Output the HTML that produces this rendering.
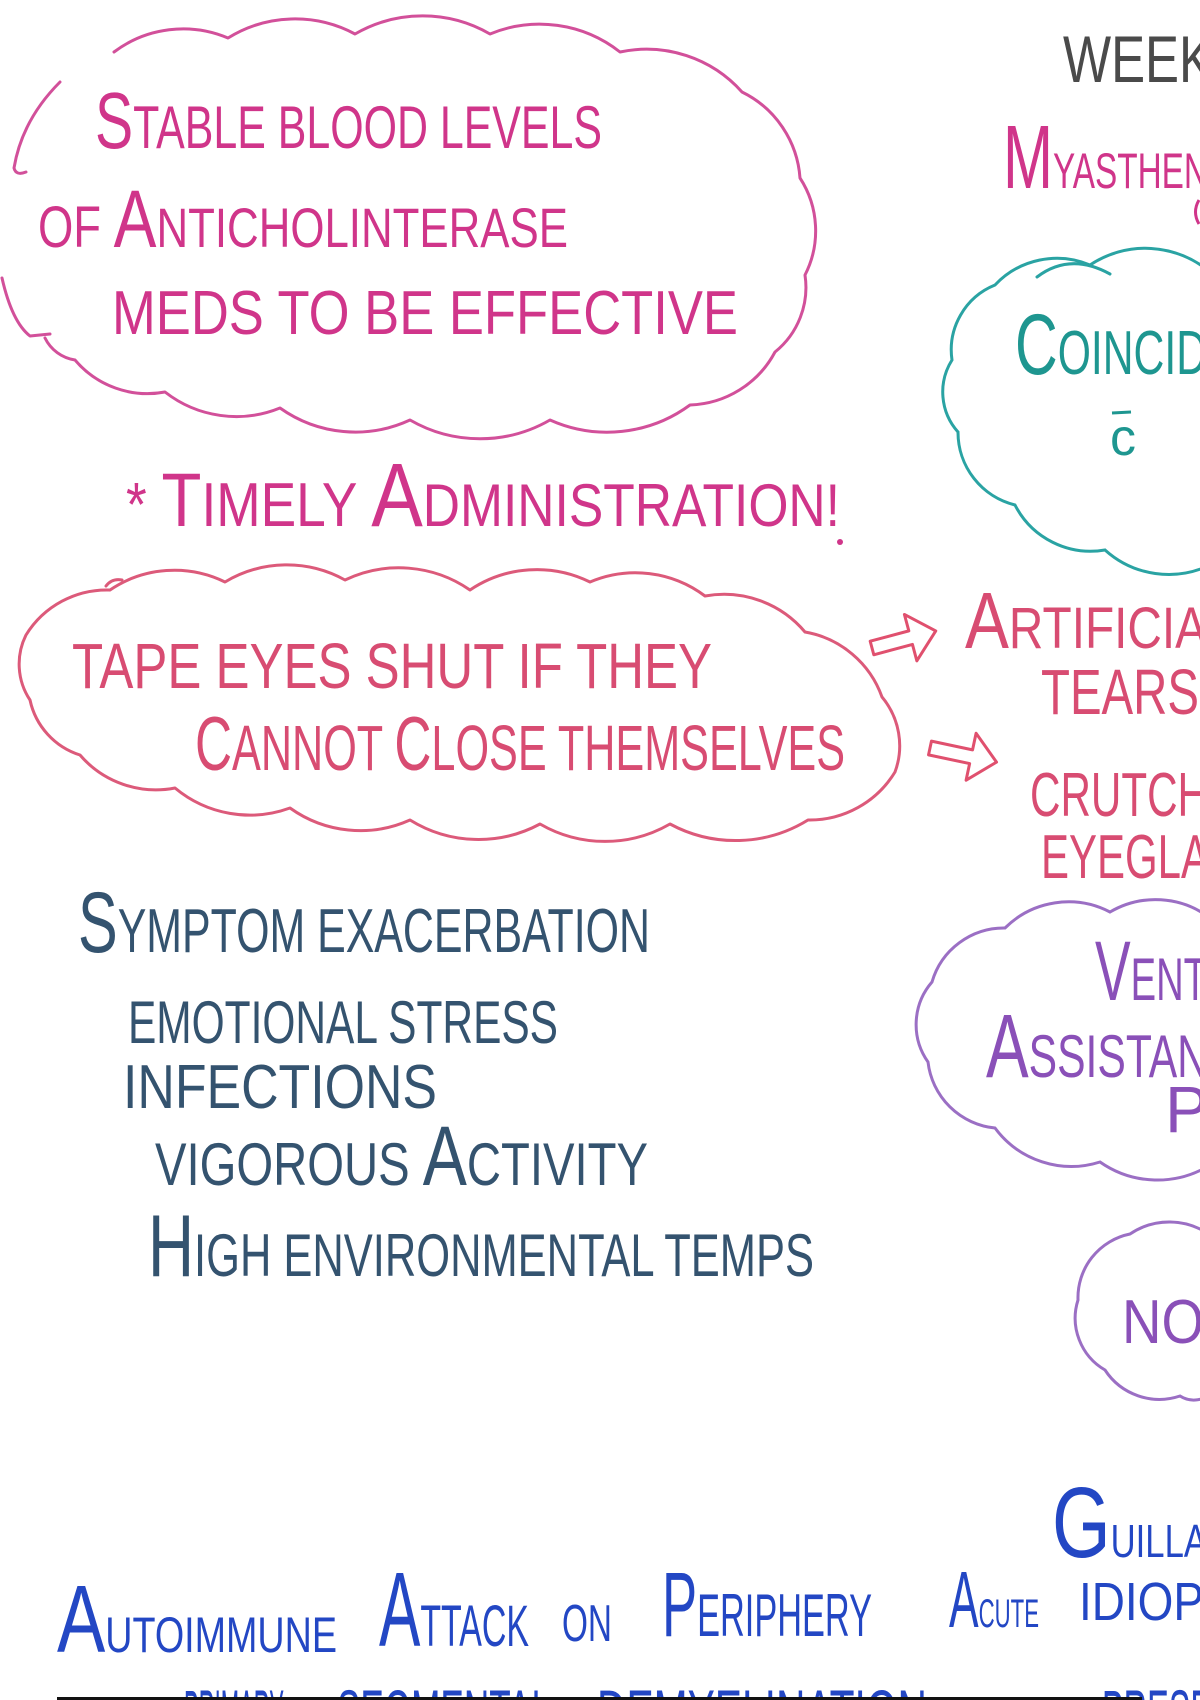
<!DOCTYPE html>
<html>
<head>
<meta charset="utf-8">
<style>
  html,body{margin:0;padding:0;background:#fff;}
  body{width:1200px;height:1700px;overflow:hidden;}
  svg{display:block;}
  text{font-family:"Liberation Sans Narrow","Liberation Sans",sans-serif;}
</style>
</head>
<body>
<svg width="1200" height="1700" viewBox="0 0 1200 1700" xmlns="http://www.w3.org/2000/svg">
  <rect x="0" y="0" width="1200" height="1700" fill="#ffffff"/>

  <!-- Cloud 1 (magenta) -->
  <g fill="none" stroke="#d2509a" stroke-width="3" stroke-linecap="round" stroke-linejoin="round">
    <path d="M114 52
      A115 115 0 0 1 228 38
      A127 127 0 0 1 355 34
      A135 135 0 0 1 490 34
      A130 130 0 0 1 620 52
      A128 128 0 0 1 742 92
      A104 104 0 0 1 800 178
      A97 97 0 0 1 805 275
      A83 83 0 0 1 775 352
      A100 100 0 0 1 690 405
      A140 140 0 0 1 550 420
      A140 140 0 0 1 410 420
      A130 130 0 0 1 280 408
      A116 116 0 0 1 165 392
      A95 95 0 0 1 75 360
      A40 40 0 0 1 45 338"/>
    <path d="M60 82 Q22 120 14 168 Q16 176 26 172"/>
    <path d="M2 278 Q12 322 30 336 L50 334"/>
  </g>

  <!-- Cloud 2 (red-pink) -->
  <g fill="none" stroke="#dc5a7a" stroke-width="3" stroke-linecap="round" stroke-linejoin="round">
    <path d="M110 590
      A115 115 0 0 1 225 582
      A120 120 0 0 1 345 580
      A125 125 0 0 1 470 590
      A120 120 0 0 1 590 582
      A116 116 0 0 1 705 596
      A106 106 0 0 1 805 632
      A100 100 0 0 1 882 697
      A76 76 0 0 1 895 772
      A100 100 0 0 1 808 820
      A138 138 0 0 1 670 824
      A130 130 0 0 1 540 824
      A130 130 0 0 1 410 820
      A121 121 0 0 1 290 808
      A117 117 0 0 1 175 788
      A100 100 0 0 1 80 755
      A74 74 0 0 1 30 700
      A65 65 0 0 1 26 635
      A95 95 0 0 1 110 590"/>
    <path d="M106 586 Q112 578 122 580"/>
  </g>

  <!-- Arrows -->
  <g fill="none" stroke="#e0506e" stroke-width="3" stroke-linejoin="round">
    <path transform="translate(872,648) rotate(-15)" d="M0 -7 L40 -7 L40 -24 L66 0 L40 24 L40 7 L0 7 Z"/>
    <path transform="translate(930,748) rotate(12)" d="M0 -7 L42 -7 L42 -24 L68 0 L42 24 L42 7 L0 7 Z"/>
  </g>

  <!-- Teal cloud -->
  <g fill="none" stroke="#2aa3a3" stroke-width="3" stroke-linecap="round">
    <path d="M1210 565
      A95 95 0 0 1 1105 550
      A85 85 0 0 1 1015 505
      A75 75 0 0 1 958 432
      A60 60 0 0 1 952 360
      A70 70 0 0 1 995 285
      A85 85 0 0 1 1090 265
      A100 100 0 0 1 1210 272"/>
    <path d="M1037 277 Q1070 252 1110 274"/>
  </g>

  <!-- Purple clouds -->
  <g fill="none" stroke="#9b6fc4" stroke-width="3" stroke-linecap="round">
    <path d="M1210 1165
      A100 100 0 0 1 1100 1162
      A95 95 0 0 1 995 1128
      A75 75 0 0 1 928 1062
      A65 65 0 0 1 932 982
      A75 75 0 0 1 1005 928
      A90 90 0 0 1 1110 912
      A90 90 0 0 1 1210 918"/>
    <path d="M1210 1235
      A70 70 0 0 0 1130 1234
      A65 65 0 0 0 1078 1300
      A60 60 0 0 0 1105 1370
      A65 65 0 0 0 1180 1396
      A25 25 0 0 0 1210 1394"/>
  </g>

  <!-- Magenta text -->
  <g fill="#d0358a">
    <text x="95" y="148" textLength="507" lengthAdjust="spacingAndGlyphs"><tspan font-size="80">S</tspan><tspan font-size="60">TABLE BLOOD LEVELS</tspan></text>
    <text x="38" y="247" textLength="530" lengthAdjust="spacingAndGlyphs"><tspan font-size="58">OF </tspan><tspan font-size="82">A</tspan><tspan font-size="56">NTICHOLINTERASE</tspan></text>
    <text x="112" y="334" font-size="62" textLength="626" lengthAdjust="spacingAndGlyphs">MEDS TO BE EFFECTIVE</text>
    <text x="126" y="526" textLength="714" lengthAdjust="spacingAndGlyphs"><tspan font-size="62">* </tspan><tspan font-size="76">T</tspan><tspan font-size="62">IMELY </tspan><tspan font-size="90">A</tspan><tspan font-size="60">DMINISTRATION!</tspan></text>
    <circle cx="840" cy="542" r="3"/>
    <text x="1003" y="188" textLength="205" lengthAdjust="spacingAndGlyphs"><tspan font-size="90">M</tspan><tspan font-size="50">YASTHEN</tspan></text>
  </g>
  <path d="M1199 200 Q1192 212 1199 224" fill="none" stroke="#d0358a" stroke-width="3"/>

  <!-- Gray -->
  <text x="1063" y="82" font-size="66" fill="#4a4a4a" textLength="150" lengthAdjust="spacingAndGlyphs">WEEK</text>

  <!-- Red text -->
  <g fill="#d84c72">
    <text x="72" y="688" font-size="64" textLength="640" lengthAdjust="spacingAndGlyphs">TAPE EYES SHUT IF THEY</text>
    <text x="195" y="770" textLength="650" lengthAdjust="spacingAndGlyphs"><tspan font-size="76">C</tspan><tspan font-size="64">ANNOT </tspan><tspan font-size="76">C</tspan><tspan font-size="64">LOSE THEMSELVES</tspan></text>
    <text x="965" y="648" textLength="242" lengthAdjust="spacingAndGlyphs"><tspan font-size="80">A</tspan><tspan font-size="58">RTIFICIA</tspan></text>
    <text x="1041" y="714" font-size="64" textLength="158" lengthAdjust="spacingAndGlyphs">TEARS</text>
    <text x="1030" y="816" font-size="62" textLength="178" lengthAdjust="spacingAndGlyphs">CRUTCH</text>
    <text x="1041" y="878" font-size="62" textLength="168" lengthAdjust="spacingAndGlyphs">EYEGLA</text>
  </g>

  <!-- Teal text -->
  <g fill="#1e9690">
    <text x="1015" y="374" textLength="192" lengthAdjust="spacingAndGlyphs"><tspan font-size="86">C</tspan><tspan font-size="62">OINCID</tspan></text>
    <text x="1110" y="455" font-size="52">c</text>
  </g>
  <path d="M1112 413 L1131 412" stroke="#1e9690" stroke-width="3"/>

  <!-- Purple text -->
  <g fill="#8a50b8">
    <text x="1095" y="1000" textLength="112" lengthAdjust="spacingAndGlyphs"><tspan font-size="84">V</tspan><tspan font-size="60">ENT</tspan></text>
    <text x="986" y="1077" textLength="222" lengthAdjust="spacingAndGlyphs"><tspan font-size="90">A</tspan><tspan font-size="60">SSISTAN</tspan></text>
    <text x="1165" y="1132" font-size="66">P</text>
    <text x="1122" y="1343" font-size="62" textLength="82" lengthAdjust="spacingAndGlyphs">NO</text>
  </g>

  <!-- Slate text -->
  <g fill="#34536f">
    <text x="78" y="952" textLength="572" lengthAdjust="spacingAndGlyphs"><tspan font-size="86">S</tspan><tspan font-size="62">YMPTOM EXACERBATION</tspan></text>
    <text x="128" y="1043" font-size="60" textLength="430" lengthAdjust="spacingAndGlyphs">EMOTIONAL STRESS</text>
    <text x="123" y="1108" font-size="62" textLength="314" lengthAdjust="spacingAndGlyphs">INFECTIONS</text>
    <text x="155" y="1185" textLength="493" lengthAdjust="spacingAndGlyphs"><tspan font-size="60">VIGOROUS </tspan><tspan font-size="84">A</tspan><tspan font-size="60">CTIVITY</tspan></text>
    <text x="148" y="1276" textLength="666" lengthAdjust="spacingAndGlyphs"><tspan font-size="88">H</tspan><tspan font-size="60">IGH ENVIRONMENTAL TEMPS</tspan></text>
  </g>

  <!-- Blue text -->
  <g fill="#2347c4">
    <text x="1052" y="1557" textLength="155" lengthAdjust="spacingAndGlyphs"><tspan font-size="100">G</tspan><tspan font-size="46">UILLA</tspan></text>
    <text x="57" y="1652" textLength="280" lengthAdjust="spacingAndGlyphs"><tspan font-size="96">A</tspan><tspan font-size="50">UTOIMMUNE</tspan></text>
    <text x="379" y="1646" textLength="150" lengthAdjust="spacingAndGlyphs"><tspan font-size="106">A</tspan><tspan font-size="58">TTACK</tspan></text>
    <text x="562" y="1641" font-size="52" textLength="50" lengthAdjust="spacingAndGlyphs">ON</text>
    <text x="662" y="1636" textLength="210" lengthAdjust="spacingAndGlyphs"><tspan font-size="92">P</tspan><tspan font-size="60">ERIPHERY</tspan></text>
    <text x="949" y="1627" textLength="90" lengthAdjust="spacingAndGlyphs"><tspan font-size="80">A</tspan><tspan font-size="40">CUTE</tspan></text>
    <text x="1079" y="1620" font-size="54" textLength="125" lengthAdjust="spacingAndGlyphs">IDIOP</text>
    <text x="184" y="1736" font-size="66" textLength="100" lengthAdjust="spacingAndGlyphs">PRIMARY</text>
    <text x="337" y="1736" font-size="66" textLength="214" lengthAdjust="spacingAndGlyphs">SEGMENTAL</text>
    <text x="597" y="1736" font-size="66" textLength="330" lengthAdjust="spacingAndGlyphs">DEMYELINATION</text>
    <text x="1102" y="1736" font-size="66" textLength="110" lengthAdjust="spacingAndGlyphs">PRESE</text>
  </g>

  <!-- Bottom black line -->
  <rect x="57" y="1697" width="1085" height="3" fill="#111"/>
</svg>
</body>
</html>
